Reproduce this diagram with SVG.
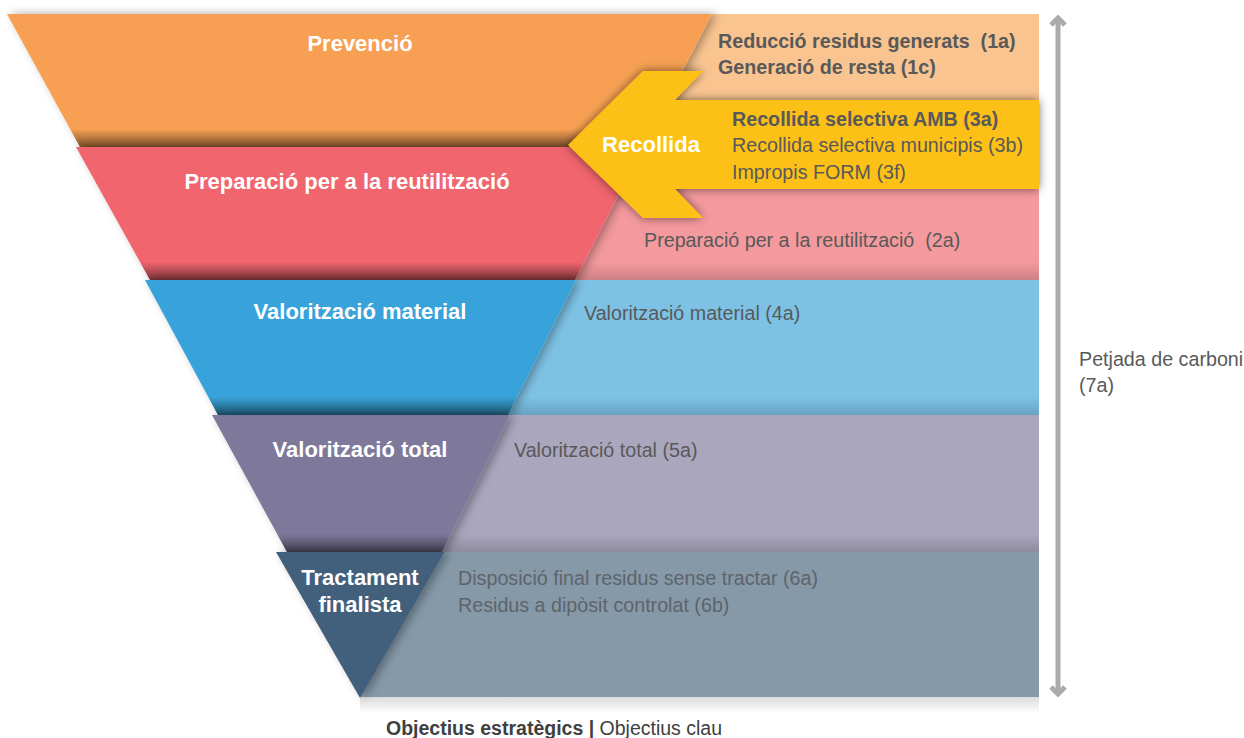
<svg xmlns="http://www.w3.org/2000/svg" width="1244" height="738" viewBox="0 0 1244 738">
<defs>
<style>
.lbl{font-family:"Liberation Sans",Arial,sans-serif;font-weight:bold;font-size:22px;fill:#ffffff;text-anchor:middle}
.txt{font-family:"Liberation Sans",Arial,sans-serif;font-size:19.7px;fill:#595959;white-space:pre}
.b{font-weight:bold}
.shade{fill:url(#gShade)}
.shadeP{fill:url(#gShadeP)}
.fun{filter:url(#fsh)}
</style>
<linearGradient id="gShade" x1="0" y1="0" x2="0" y2="1">
<stop offset="0" stop-color="#000" stop-opacity="0"/>
<stop offset="1" stop-color="#000" stop-opacity="0.5"/>
</linearGradient>
<linearGradient id="gShadeP" x1="0" y1="0" x2="0" y2="1">
<stop offset="0" stop-color="#000" stop-opacity="0"/>
<stop offset="1" stop-color="#000" stop-opacity="0.16"/>
</linearGradient>
<linearGradient id="gBottom" x1="0" y1="0" x2="0" y2="1">
<stop offset="0" stop-color="#000" stop-opacity="0.14"/>
<stop offset="1" stop-color="#000" stop-opacity="0"/>
</linearGradient>
<filter id="fsh" x="-10%" y="-10%" width="120%" height="120%">
<feDropShadow dx="4" dy="0" stdDeviation="5" flood-color="#000" flood-opacity="0.35"/>
</filter>
<filter id="ash" x="-10%" y="-20%" width="120%" height="140%">
<feDropShadow dx="0" dy="0" stdDeviation="5" flood-color="#000" flood-opacity="0.55"/>
</filter>
</defs>
<rect width="1244" height="738" fill="#ffffff"/>

<g id="row-prevencio">
<polygon points="712,14 1039,14 1039,147 643,147" fill="#F9C490"/>
<polygon class="fun" points="7,14 712,14 643,147 80,147" fill="#F7A052"/>
<polygon class="shade" points="70,129 652,129 643,147 80,147"/>
<text class="lbl" x="360" y="51">Prevenció</text>
<text class="txt b" x="718" y="48">Reducció residus generats  (1a)</text>
<text class="txt b" x="718" y="74">Generació de resta (1c)</text>
</g>

<g id="row-preparacio">
<polygon points="643,147 1039,147 1039,280 575,280" fill="#F4999D"/>
<polygon class="fun" points="76,147 643,147 575,280 150,280" fill="#F0656E"/>
<polygon class="shade" points="140,262 584,262 575,280 150,280"/>
<polygon class="shadeP" points="584,262 1039,262 1039,280 575,280"/>
<text class="lbl" x="347" y="189">Preparació per a la reutilització</text>
<text class="txt" x="644" y="247">Preparació per a la reutilització  (2a)</text>
</g>

<g id="row-valoritzacio-material">
<polygon points="576,280 1039,280 1039,415 508,415" fill="#7DC2E5"/>
<polygon class="fun" points="145,280 576,280 508,415 218,415" fill="#38A3DA"/>
<polygon class="shade" points="208,397 517,397 508,415 218,415"/>
<polygon class="shadeP" points="517,397 1039,397 1039,415 508,415"/>
<text class="lbl" x="360" y="319">Valorització material</text>
<text class="txt" x="584" y="320">Valorització material (4a)</text>
</g>

<g id="row-valoritzacio-total">
<polygon points="510,415 1039,415 1039,552 442,552" fill="#A9A6BE"/>
<polygon class="fun" points="212,415 510,415 442,552 287,552" fill="#7E799B"/>
<polygon class="shade" points="277,534 451,534 442,552 287,552"/>
<polygon class="shadeP" points="451,534 1039,534 1039,552 442,552"/>
<text class="lbl" x="360" y="457">Valorització total</text>
<text class="txt" x="514" y="457">Valorització total (5a)</text>
</g>

<g id="row-tractament">
<rect x="360" y="697" width="679" height="16" fill="url(#gBottom)"/>
<polygon points="445,552 1039,552 1039,697 360,697" fill="#8599A9"/>
<polygon class="fun" points="276,552 445,552 360,698" fill="#435F7B"/>
<text class="lbl" x="360" y="585">Tractament</text>
<text class="lbl" x="360" y="612">finalista</text>
<text class="txt" x="458" y="585" style="fill:#5E646B">Disposició final residus sense tractar (6a)</text>
<text class="txt" x="458" y="612" style="fill:#5E646B">Residus a dipòsit controlat (6b)</text>
</g>

<g id="node-recollida">
<polygon filter="url(#ash)" points="568,145 643,71 703,71 675,100 1039,100 1039,189 675,189 703,218 643,218" fill="#FDC012"/>
<text class="lbl" x="651" y="152">Recollida</text>
<text class="txt b" x="732" y="126">Recollida selectiva AMB (3a)</text>
<text class="txt" x="732" y="152">Recollida selectiva municipis (3b)</text>
<text class="txt" x="732" y="179">Impropis FORM (3f)</text>
</g>

<g id="connectors">
<path d="M1058,18 V694" stroke="#ABABAB" stroke-width="5" fill="none"/>
<path d="M1051,25 L1058,18 L1065,25" stroke="#ABABAB" stroke-width="5" fill="none"/>
<path d="M1051,687 L1058,694 L1065,687" stroke="#ABABAB" stroke-width="5" fill="none"/>
</g>

<g id="label-petjada">
<text class="txt" x="1079" y="366">Petjada de carboni</text>
<text class="txt" x="1079" y="392">(7a)</text>
</g>

<g id="caption">
<text class="txt" x="386" y="735" style="fill:#404040;font-size:19.5px"><tspan class="b">Objectius estratègics |</tspan> Objectius clau</text>
</g>
</svg>
